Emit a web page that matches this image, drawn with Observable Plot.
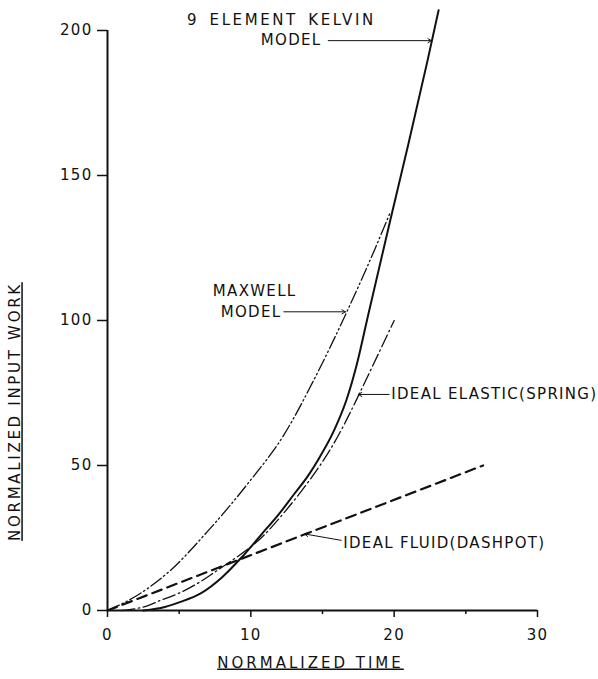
<!DOCTYPE html>
<html>
<head>
<meta charset="utf-8">
<script src="https://cdn.jsdelivr.net/npm/d3@7"></script>
<script src="https://cdn.jsdelivr.net/npm/@observablehq/plot@0.6"></script>
<style>
  html, body { margin: 0; padding: 0; background: #fff; }
  #chart svg { display: block; }
</style>
</head>
<body>
<div id="chart"></div>
<script>
// Normalized input work vs normalized time for four rheological models
const kelvinT  = [2.5, 4, 5, 6.5, 8, 9.3, 10.7, 12, 13, 14, 14.7, 15.8, 16.7, 17.4, 18.1, 19.7, 21, 22.3, 23.1];
const kelvinW  = [0, 1.2, 2.8, 5.9, 11.5, 18, 26, 33.5, 40, 46.5, 52, 62, 73, 85, 100, 134, 161, 189, 207];

const maxwellT = [0, 2, 4.2, 7.2, 9.75, 12.3, 14.5, 16.7, 18.6, 19.7];
const maxwellW = [0, 5, 13, 28.5, 43.5, 60.5, 80.5, 103, 124, 137];

const elasticT = [1, 2.5, 3.7, 5, 6.5, 7.65, 9.75, 11.4, 13.5, 15.6, 17.5, 20];
const elasticW = [0, 1.2, 3.5, 6, 10, 13.8, 21, 28.5, 41, 56, 74, 100];

const fluidT   = [0, 26.2];
const fluidW   = [0, 50];

const xMajorTicks = [0, 10, 20, 30];
const xMinorTicks = [5, 15, 25];
const yTicks      = [0, 50, 100, 150, 200];

const xTitle = "NORMALIZED TIME";
const yTitle = "NORMALIZED INPUT WORK";
const yTitleAt = 68.6;   // work value at the centre of the vertical title

// curve annotations: text, anchor time, anchor work
const headText = "9 ELEMENT KELVIN";
const headT = 5.55, headW = 203.4;
const noteText = ["MODEL", "MAXWELL", "MODEL", "IDEAL ELASTIC(SPRING)", "IDEAL FLUID(DASHPOT)"];
const noteT    = [10.7, 7.35, 7.9, 19.8, 16.45];
const noteW    = [196.5, 110, 103, 74.5, 23.1];

// leader arrows: from (t1,w1) to (t2,w2)
const leadT1 = [15.4, 12.3, 19.65, 16.3];
const leadW1 = [196.5, 103, 74.5, 24.2];
const leadT2 = [22.6, 16.6, 17.5, 13.75];
const leadW2 = [196.5, 103, 74.5, 26.4];

const toPts = (ts, ws) => ts.map((t, i) => ({t, w: ws[i]}));
const kelvin  = toPts(kelvinT, kelvinW);
const maxwell = toPts(maxwellT, maxwellW);
const elastic = toPts(elasticT, elasticW);
const fluid   = toPts(fluidT, fluidW);
const notes   = noteText.map((s, i) => ({s, t: noteT[i], w: noteW[i]}));
const leads   = leadT1.map((t1, i) => ({t1, w1: leadW1[i], t2: leadT2[i], w2: leadW2[i]}));

const ink = "#111";

const chart = Plot.plot({
  width: 598,
  height: 679,
  marginLeft: 107,
  marginRight: 61,
  marginTop: 30,
  marginBottom: 69,
  style: {fontFamily: "'DejaVu Sans', sans-serif", fontSize: "15px", color: ink, letterSpacing: "1.3px", background: "#fff"},
  x: {domain: [0, 30]},
  y: {domain: [0, 200]},
  marks: [
    // axes
    Plot.ruleX([0], {stroke: ink, strokeWidth: 2}),
    Plot.ruleY([0], {stroke: ink, strokeWidth: 2}),
    Plot.axisY({ticks: yTicks, tickSize: 10, tickPadding: 5, fontSize: 15, stroke: ink, strokeWidth: 1.5, label: null}),
    Plot.axisX({ticks: xMajorTicks, tickSize: 7, tickPadding: 12, fontSize: 15, stroke: ink, strokeWidth: 1.5, label: null}),
    Plot.axisX({ticks: xMinorTicks, tickSize: 4, text: null, stroke: ink, strokeWidth: 1.5, label: null}),
    // axis titles
    Plot.text([xTitle], {frameAnchor: "bottom", dx: -12, dy: 57, fontSize: 15, fill: ink}),
    Plot.text([yTitle], {y: [yTitleAt], frameAnchor: "left", textAnchor: "middle", dx: -92, rotate: -90, fontSize: 15, fill: ink}),
    // curves
    Plot.line(fluid,   {x: "t", y: "w", stroke: ink, strokeWidth: 2.2, strokeDasharray: "10,6"}),
    Plot.line(elastic, {x: "t", y: "w", stroke: ink, strokeWidth: 1.3, strokeDasharray: "13,3.5,1.5,3.5", curve: "natural"}),
    Plot.line(maxwell, {x: "t", y: "w", stroke: ink, strokeWidth: 1.3, strokeDasharray: "13,3,1.5,3,1.5,3", curve: "monotone-x"}),
    Plot.line(kelvin,  {x: "t", y: "w", stroke: ink, strokeWidth: 2, curve: "monotone-x"}),
    // annotations
    Plot.arrow(leads, {x1: "t1", y1: "w1", x2: "t2", y2: "w2", stroke: ink, strokeWidth: 1, headLength: 6}),
    Plot.text([headText], {x: [headT], y: [headW], textAnchor: "start", lineAnchor: "middle", fontSize: 15, fill: ink}),
    Plot.text(notes, {x: "t", y: "w", text: "s", textAnchor: "start", lineAnchor: "middle", fontSize: 15, fill: ink})
  ]
});

// underline and space out the axis titles; widen the Kelvin heading
const texts = d3.select(chart).selectAll("text");
texts.filter(function() { return this.textContent === xTitle; })
  .style("text-decoration", "underline")
  .style("letter-spacing", "3px");
texts.filter(function() { return this.textContent === yTitle; })
  .style("text-decoration", "underline")
  .style("letter-spacing", "2.7px");
texts.filter(function() { return this.textContent === headText; })
  .style("letter-spacing", "2.6px")
  .style("word-spacing", "3px");

document.getElementById("chart").appendChild(chart);
</script>
</body>
</html>
